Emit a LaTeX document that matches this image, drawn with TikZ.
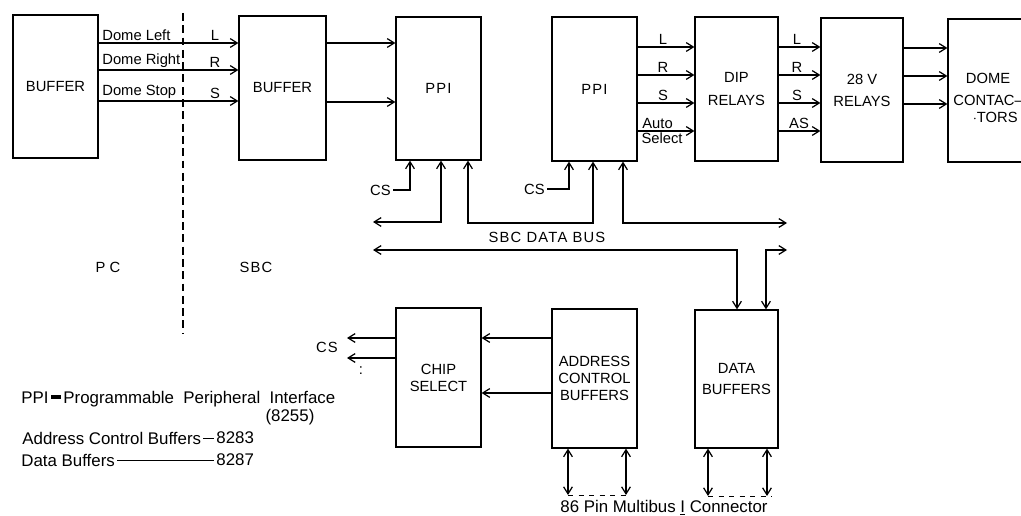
\documentclass[tikz,border=0pt]{standalone}
\usepackage{fontspec}
\setmainfont{Liberation Sans}
\newfontfamily\widefont[LetterSpace=8]{Liberation Sans}
\usetikzlibrary{arrows.meta,calc}
\newcommand\blk[6]{\node[blk, minimum width={(#4-#2)*0.02cm}, minimum height={(#5-#3)*0.02cm}] (#1) at ({(#2+#4)/2},{(#3+#5)/2}) {#6};}
\begin{document}
\begin{tikzpicture}[x=0.02cm,y=-0.02cm,
  line width=0.7pt,
  font=\fontsize{8.4}{9.6}\selectfont,
  blk/.style={draw, align=center, inner sep=0pt},
  arr/.style={-{Straight Barb[length=4pt,width=5pt]}},
  darr/.style={{Straight Barb[length=4pt,width=5pt]}-{Straight Barb[length=4pt,width=5pt]}},
  lbl/.style={inner sep=1pt},
  big/.style={font=\fontsize{9.6}{11}\selectfont},
  divider/.style={dash pattern=on 4.5pt off 2.5pt}]
\useasboundingbox (0,0) rectangle (1021,516);
\clip (0,0) rectangle (1021,516);

% blocks
\blk{b1}{13}{15}{98}{158}{BUFFER}
\blk{b2}{239}{16}{326}{160}{BUFFER}
\blk{ppiA}{396}{17}{481}{160}{{\widefont PPI}}
\blk{ppiB}{552}{17}{637}{161}{{\widefont PPI}}
\blk{dip}{695}{17}{778}{161}{DIP\\[3pt]RELAYS}
\blk{rel}{821}{18}{903}{162}{28 V\\[3pt]RELAYS}
\blk{dome}{948}{19}{1070}{162}{}
\node[lbl] (domeA) at (988,78) {DOME};
\node[lbl, anchor=west] (domeB) at (951,100) {CONTAC--};
\node[lbl, anchor=east] (domeC) at (1020,117) {$\cdot$TORS};
\blk{chip}{396}{308}{481}{447}{CHIP\\SELECT}
\blk{acb}{552}{309}{637}{448}{ADDRESS\\CONTROL\\BUFFERS}
\blk{dbuf}{695}{310}{778}{448}{DATA\\[2pt]BUFFERS}

% PC / SBC divider
\coordinate (dvT) at (183,13);
\coordinate (dvB) at (183,333);
\draw[divider] (dvT) -- (dvB);
\node[lbl] (pc) at (108,267) {P C};
\node[lbl] (sbc) at (256,267) {{\widefont SBC}};

% buffer -> buffer
\draw[arr] (b1.east |- 0,43) -- (b2.west |- 0,43);
\draw[arr] (b1.east |- 0,70) -- (b2.west |- 0,70);
\draw[arr] (b1.east |- 0,101) -- (b2.west |- 0,101);
\node[lbl, anchor=south west] (dl) at (100,43) {Dome Left};
\node[lbl, anchor=south west] (dr) at (100,70) {Dome Right};
\node[lbl, anchor=south west] (ds) at (100,101) {Dome Stop};
\node[lbl, anchor=south] (lL) at (215,43) {L};
\node[lbl, anchor=south] (lR) at (215,70) {R};
\node[lbl, anchor=south] (lS) at (215,101) {S};

% buffer -> PPI
\draw[arr] (b2.east |- 0,43) -- (ppiA.west |- 0,43);
\draw[arr] (b2.east |- 0,102) -- (ppiA.west |- 0,102);

% PPI -> DIP relays
\draw[arr] (ppiB.east |- 0,47) -- (dip.west |- 0,47);
\draw[arr] (ppiB.east |- 0,75) -- (dip.west |- 0,75);
\draw[arr] (ppiB.east |- 0,103) -- (dip.west |- 0,103);
\draw[arr] (ppiB.east |- 0,131) -- (dip.west |- 0,131);
\node[lbl, anchor=south] (pL) at (663,47) {L};
\node[lbl, anchor=south] (pR) at (663,75) {R};
\node[lbl, anchor=south] (pS) at (663,103) {S};
\node[lbl, anchor=south west] (pA1) at (640,131) {Auto};
\node[lbl, anchor=north west, inner sep=0.5pt] (pA2) at (640,131) {Select};

% DIP -> 28 V relays
\draw[arr] (dip.east |- 0,47) -- (rel.west |- 0,47);
\draw[arr] (dip.east |- 0,75) -- (rel.west |- 0,75);
\draw[arr] (dip.east |- 0,103) -- (rel.west |- 0,103);
\draw[arr] (dip.east |- 0,131) -- (rel.west |- 0,131);
\node[lbl, anchor=south] (dL) at (797,47) {L};
\node[lbl, anchor=south] (dR) at (797,75) {R};
\node[lbl, anchor=south] (dS) at (797,103) {S};
\node[lbl, anchor=south] (dAS) at (799,131) {AS};

% 28 V relays -> dome contactors
\draw[arr] (rel.east |- 0,48) -- (dome.west |- 0,48);
\draw[arr] (rel.east |- 0,76) -- (dome.west |- 0,76);
\draw[arr] (rel.east |- 0,104) -- (dome.west |- 0,104);

% chip select inputs of PPIs
\coordinate (csA) at (393,190);
\coordinate (csB) at (547,189);
\node[lbl, anchor=east] (csAt) at (csA) {CS};
\node[lbl, anchor=east] (csBt) at (csB) {CS};
\draw[arr] (csA) -| (ppiA.south -| 410,0);
\draw[arr] (csB) -| (ppiB.south -| 569,0);

% SBC data bus
\coordinate (busA) at (373,222);
\coordinate (busB) at (787,223);
\coordinate (busC) at (373,250);
\coordinate (busD) at (787,250);
\draw[darr] (busA) -| (ppiA.south -| 441,0);
\draw[darr] (ppiA.south -| 468,0) |- (593,223) -- (ppiB.south -| 593,0);
\draw[darr] (ppiB.south -| 623,0) |- (busB);
\draw[darr] (busC) -| (dbuf.north -| 737,0);
\draw[darr] (dbuf.north -| 766,0) |- (busD);
\node[lbl] (busT) at (547,237) {{\widefont SBC DATA BUS}};

% address control buffers -> chip select
\draw[arr] (acb.west |- 0,338) -- (chip.east |- 0,338);
\draw[arr] (acb.west |- 0,393) -- (chip.east |- 0,393);

% chip select outputs
\coordinate (cso1) at (347,338);
\coordinate (cso2) at (347,358);
\draw[arr] (chip.west |- 0,338) -- (cso1);
\draw[arr] (chip.west |- 0,358) -- (cso2);
\node[lbl] (csOut) at (327,347) {{\widefont CS}};
\node[lbl] (csDots) at (361,371) {:};

% Multibus connector
\coordinate (m1) at (568,495);
\coordinate (m2) at (626,495);
\coordinate (m3) at (708,496);
\coordinate (m4) at (767,496);
\coordinate (m5) at (772,496);
\draw[darr] (acb.south -| m1) -- (m1);
\draw[darr] (acb.south -| m2) -- (m2);
\draw[darr] (dbuf.south -| m3) -- (m3);
\draw[darr] (dbuf.south -| m4) -- (m4);
\draw[dashed, line width=0.5pt] (m1) -- (m2);
\draw[dashed, line width=0.5pt] (m3) -- (m5);
\node[lbl, big, inner sep=0pt] (mb) at (664,508) {86 Pin Multibus \underline{I} Connector};

% legend
\node[lbl, big, anchor=west] (lg1) at (19,399) {PPI\,\rule[0.25em]{0.55em}{0.22em}\,Programmable\ \ Peripheral\ \ Interface};
\node[lbl, big] (lg2) at (290,417) {(8255)};
\node[lbl, big, anchor=west] (lg3) at (20,438) {Address Control Buffers};
\node[lbl, big, anchor=west] (lg4) at (214,438) {8283};
\draw[line width=0.5pt] (lg3.east) -- (lg4.west);
\node[lbl, big, anchor=west] (lg5) at (19,460) {Data Buffers};
\node[lbl, big, anchor=west] (lg6) at (214,460) {8287};
\draw[line width=0.5pt] (lg5.east) -- (lg6.west);
\end{tikzpicture}
\end{document}
